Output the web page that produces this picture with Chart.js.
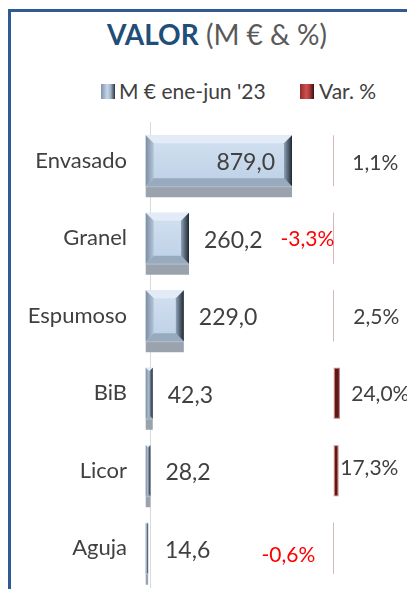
<!DOCTYPE html>
<html>
<head>
<meta charset="utf-8">
<script src="https://cdn.jsdelivr.net/npm/chart.js@4.4.0/dist/chart.umd.min.js"></script>
<style>
 body{margin:0;background:#fff;}
 #wrap{position:relative;width:407px;height:589px;overflow:hidden;font-family:Lato,"Open Sans",sans-serif;}
 #frame{position:absolute;left:8px;top:9px;width:440px;height:620px;border-left:3px solid #2F5A96;border-top:3px solid #2F5A96;}
 #title{position:absolute;left:0;top:20px;width:434px;text-align:center;font-size:28px;line-height:28px;color:#595959;white-space:nowrap;}
 #title b{color:#1F4E79;}
 .lg{position:absolute;top:80px;font-size:21px;line-height:21px;color:#404040;white-space:nowrap;}
 .box{position:absolute;top:84px;width:14px;height:15px;}
 #b1{left:101px;background:linear-gradient(90deg,#7F93AA 0%,#C7D7EA 45%,#9FB1C6 70%,#26313D 100%);}
 #b2{left:300px;background:linear-gradient(90deg,#8E2C2A 0%,#D0504D 45%,#A63A37 70%,#3A0D0D 100%);}
 canvas{position:absolute;left:0;top:0;}
</style>
</head>
<body>
<div id="wrap">
 <div id="frame"></div>
 <div id="title"><b>VALOR</b> (M € &amp; %)</div>
 <span class="box" id="b1"></span><span class="lg" id="l1" style="left:119px"></span>
 <span class="box" id="b2"></span><span class="lg" id="l2" style="left:319px"></span>
 <canvas id="chart" width="407" height="589"></canvas>
</div>
<script>
const categories = ["Envasado","Granel","Espumoso","BiB","Licor","Aguja"];
const valor = [879.0, 260.2, 229.0, 42.3, 28.2, 14.6];
const varPct = [1.1, -3.3, 2.5, 24.0, 17.3, -0.6];
const seriesNames = ["M € ene-jun '23", "Var. %"];

// hand placed offsets of the % labels (px, from the zero line)
const pctDx = [18, 0, 19, 17, 6, -19];
const pctDy = [2, 1, 1, 1, -3, 7];

document.getElementById("l1").textContent = seriesNames[0];
document.getElementById("l2").textContent = seriesNames[1];

function fmt(v){ return v.toFixed(1).replace(".", ","); }

function bevel(ctx, x0, x1, top, bot){
 const w = x1 - x0;
 if(w <= 0.5) return;
 // side strip under the bar
 ctx.fillStyle = "#9AA2AD";
 ctx.fillRect(x0, bot, w, 11);
 ctx.fillStyle = "#B4BBC4";
 ctx.fillRect(x0, bot, w, 1);
 // face
 let g = ctx.createLinearGradient(0, top, 0, bot);
 g.addColorStop(0, "#D3E1F1");
 g.addColorStop(1, "#BDD0E6");
 ctx.fillStyle = g;
 ctx.fillRect(x0, top, w, bot - top);
 const b = Math.min(8, w / 2);
 // top
 ctx.fillStyle = "#E2EBF6";
 ctx.beginPath();
 ctx.moveTo(x0, top); ctx.lineTo(x1, top); ctx.lineTo(x1 - b, top + b); ctx.lineTo(x0 + b, top + b);
 ctx.fill();
 // left
 g = ctx.createLinearGradient(x0, 0, x0 + b, 0);
 g.addColorStop(0, "#7D8EA2");
 g.addColorStop(1, "#B3C4D8");
 ctx.fillStyle = g;
 ctx.beginPath();
 ctx.moveTo(x0, top); ctx.lineTo(x0 + b, top + b); ctx.lineTo(x0 + b, bot - b); ctx.lineTo(x0, bot);
 ctx.fill();
 // bottom
 ctx.fillStyle = "#98AABE";
 ctx.beginPath();
 ctx.moveTo(x0, bot); ctx.lineTo(x1, bot); ctx.lineTo(x1 - b, bot - b); ctx.lineTo(x0 + b, bot - b);
 ctx.fill();
 // right
 g = ctx.createLinearGradient(x1 - b, 0, x1, 0);
 g.addColorStop(0, "#8FA2B7");
 g.addColorStop(1, "#1D2732");
 ctx.fillStyle = g;
 ctx.beginPath();
 ctx.moveTo(x1, top); ctx.lineTo(x1, bot); ctx.lineTo(x1 - b, bot - b); ctx.lineTo(x1 - b, top + b);
 ctx.fill();
}

const barsPlugin = {
 id: "barsPlugin",
 afterDatasetsDraw(chart){
   const ctx = chart.ctx;
   const area = chart.chartArea;
   ctx.save();
   // valor bars + labels
   chart.getDatasetMeta(0).data.forEach((bar, i) => {
     const p = bar.getProps(["x","y","base","height"], true);
     const top = p.y - p.height / 2, bot = p.y + p.height / 2;
     if(p.x > p.base) bevel(ctx, p.base, p.x, top, bot);
     ctx.font = "23px Lato";
     ctx.fillStyle = "#404040";
     ctx.textBaseline = "middle";
     const end = Math.max(p.x, area.left);
     if(end - area.left > 100){
       ctx.textAlign = "right";
       ctx.fillText(fmt(valor[i]), end - 17, p.y + 2);
     } else {
       ctx.textAlign = "left";
       ctx.fillText(fmt(valor[i]), end + 15, p.y + 2);
     }
   });
   // var % bars + labels
   chart.getDatasetMeta(1).data.forEach((bar, i) => {
     const p = bar.getProps(["x","y","base","height"], true);
     const top = p.y - p.height / 2, h = p.height;
     const x0 = Math.min(p.x, p.base), w = Math.abs(p.x - p.base);
     if(w < 1.5){
       ctx.fillStyle = "#D6B6B6";
       ctx.fillRect(Math.round(p.base) - 1, top, 1, h);
     } else {
       ctx.fillStyle = "#C88484";
       ctx.fillRect(x0 - 0.5, top, w + 1, h);
       ctx.fillStyle = "#5C1818";
       ctx.fillRect(x0 + 0.7, top + 1, w - 1.4, h - 2);
     }
     ctx.font = "21px Lato";
     ctx.textBaseline = "middle";
     const v = varPct[i];
     ctx.fillStyle = v < 0 ? "#FF0000" : "#404040";
     ctx.textAlign = v < 0 ? "right" : "left";
     ctx.fillText(fmt(v) + "%", p.base + pctDx[i], p.y + pctDy[i]);
   });
   ctx.restore();
 }
};

new Chart(document.getElementById("chart"), {
 type: "bar",
 data: {
   labels: categories,
   datasets: [
     { label: seriesNames[0], data: valor, xAxisID: "x", backgroundColor: "rgba(0,0,0,0)", barThickness: 51 },
     { label: seriesNames[1], data: varPct, xAxisID: "x2", backgroundColor: "rgba(0,0,0,0)", barThickness: 51 }
   ]
 },
 options: {
   indexAxis: "y",
   responsive: false,
   animation: false,
   layout: { padding: { top: 122, bottom: 2, left: 0, right: 0 } },
   datasets: { bar: { grouped: false } },
   plugins: { legend: { display: false }, title: { display: false }, tooltip: { enabled: false } },
   scales: {
     x: { display: false, min: 25.8, max: 1570 },
     x2: { display: false, min: -841, max: 332 },
     y: {
       position: "left",
       grid: { display: false, drawTicks: false },
       border: { color: "#D9D9D9", width: 1 },
       ticks: { color: "#404040", padding: 23, font: { family: "Lato", size: 22 } },
       afterFit(s){ s.width = 150; s.paddingTop = 0; s.paddingBottom = 0; }
     }
   }
 },
 plugins: [barsPlugin]
});
</script>
</body>
</html>
